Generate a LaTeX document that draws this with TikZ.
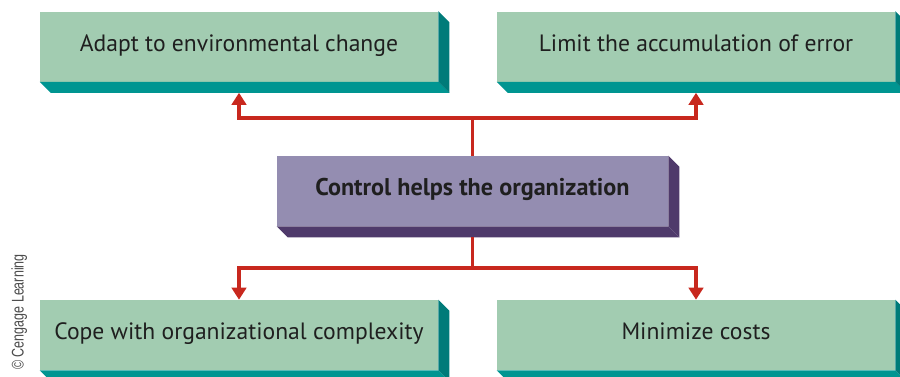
\documentclass[tikz,border=0pt]{standalone}
\usepackage{fontspec}
\setmainfont{PT Sans}
\newfontfamily\creditfont[FakeStretch=0.74]{Liberation Sans}
\usetikzlibrary{arrows.meta}

\definecolor{slabgreen}{HTML}{A2CCB1}
\definecolor{tealbottom}{HTML}{009591}
\definecolor{tealside}{HTML}{007B79}
\definecolor{hubpurple}{HTML}{948DB1}
\definecolor{hubdark}{HTML}{4F3A6B}
\definecolor{linkred}{HTML}{C8281E}

\tikzset{
  slab/.style={fill=slabgreen, inner sep=0pt, minimum width=9.95cm,
    minimum height=1.75cm, text height=0.7em, text depth=0pt,
    text=black!88, font=\fontsize{16.8}{18}\selectfont},
  hub/.style={slab, fill=hubpurple, minimum width=9.775cm,
    font=\fontsize{17.2}{18}\selectfont\bfseries},
  link/.style={draw=linkred, line width=2.2pt,
    -{Triangle[length=0.3cm,width=0.36cm]}},
}

\begin{document}
\begin{tikzpicture}
  \useasboundingbox (0,0) rectangle (22.5,9.4);
  \node[slab] (adapt) at (5.975,8.2375) {Adapt to environmental change};
  \node[slab] (limit) at (17.4,8.2375)  {Limit the accumulation of error};
  \node[hub]  (ctrl)  at (11.8125,4.625) {Control helps the organization};
  \node[slab] (cope)  at (5.975,1.025)  {Cope with organizational complexity};
  \node[slab] (costs) at (17.4,1.025)   {Minimize costs};
  % depth of the slabs
  \foreach \n/\bot/\side in {adapt/tealbottom/tealside, limit/tealbottom/tealside,
      ctrl/hubdark/hubdark, cope/tealbottom/tealside, costs/tealbottom/tealside} {
    \fill[\bot] (\n.south west) -- ++(0.275,-0.275)
      -- ([shift={(0.275,-0.275)}]\n.south east) -- (\n.south east) -- cycle;
    \fill[\side] (\n.north east) -- ++(0.275,-0.275)
      -- ([shift={(0.275,-0.275)}]\n.south east) -- (\n.south east) -- cycle;
  }
  \coordinate (upbar) at (11.8125,6.45);
  \coordinate (downbar) at (11.8125,2.7);
  \draw[link] (ctrl.north) -- (upbar) -| ([yshift=-0.275cm]adapt.south);
  \draw[link] (ctrl.north) -- (upbar) -| ([yshift=-0.275cm]limit.south);
  \draw[link] ([yshift=-0.275cm]ctrl.south) -- (downbar) -| (cope.north);
  \draw[link] ([yshift=-0.275cm]ctrl.south) -- (downbar) -| (costs.north);
  \node[rotate=90, text=black!70, font=\creditfont\fontsize{12}{13}\selectfont]
    (cengage) at (0.48,1.6) {\textcopyright\ Cengage Learning};
\end{tikzpicture}
\end{document}
